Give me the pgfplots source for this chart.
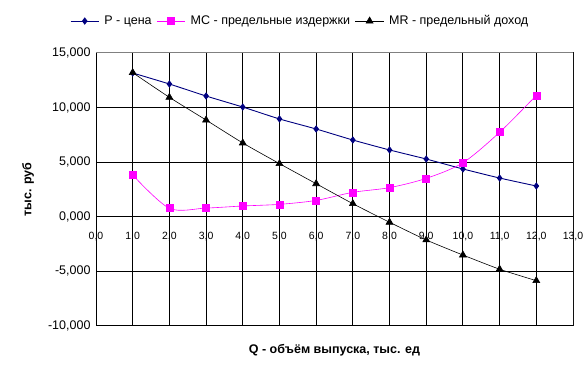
\documentclass[border=0pt]{standalone}
\usepackage{fontspec}
\setmainfont{Liberation Sans}
\usepackage{pgfplots}
\pgfplotsset{compat=1.18}
\definecolor{pnavy}{RGB}{0,0,128}
\definecolor{mcmag}{RGB}{255,0,255}
\begin{document}
\begin{tikzpicture}
\path[use as bounding box] (0,0) rectangle (586pt,379pt);
\begin{axis}[
  at={(96pt,53pt)}, anchor=south west,
  scale only axis, width=477pt, height=273pt,
  xmin=0, xmax=13, ymin=-10, ymax=15,
  xtick={0,1,...,13}, ytick={-10,-5,0,5,10,15},
  major tick length=0pt,
  grid=major,
  major grid style={black, line width=1pt},
  axis line style={black, line width=1pt},
  /pgf/number format/assume math mode=true,
  xticklabel style={font=\fontsize{10.5}{12}\selectfont, yshift=97pt,
     /pgf/number format/.cd, fixed, fixed zerofill, precision=1, use comma, 1000 sep={}},
  yticklabel style={font=\fontsize{12.5}{14}\selectfont, xshift=-2pt,
     /pgf/number format/.cd, fixed, fixed zerofill, precision=3, use comma, 1000 sep={}},
  scaled y ticks=false,
  xlabel={Q - объём выпуска, тыс. ед},
  ylabel={тыс. руб},
  xlabel style={font=\bfseries\fontsize{12.5}{14}\selectfont, at={(axis description cs:0.5,-0.088)}, anchor=center},
  ylabel style={font=\bfseries\fontsize{12.5}{14}\selectfont, at={(axis description cs:-0.1426,0.5)}, anchor=center},
  legend columns=3,
  legend style={at={(axis description cs:0.428,1.117)}, anchor=center, draw=none,
     font=\fontsize{12.5}{14}\selectfont, column sep=3pt, inner sep=0pt},
  legend image code/.code={\draw[mark repeat=2,mark phase=2] plot coordinates {(0cm,0cm)(0.5cm,0cm)(1cm,0cm)};},
]
\addplot[pnavy, line width=0.9pt, smooth, tension=0.4, mark=diamond*, mark size=3pt, mark options={solid, fill=pnavy}]
  coordinates {(1,13.17)(2,12.16)(3,11.06)(4,10.05)(5,8.96)(6,8.04)(7,7.03)(8,6.12)(9,5.29)(10,4.38)(11,3.55)(12,2.82)};
\addlegendentry{P - цена}
\addplot[mcmag, line width=0.6pt, smooth, tension=0.5, mark=square*, mark size=3.5pt, mark options={solid, fill=mcmag}]
  coordinates {(1,3.83)(2,0.78)(3,0.80)(4,0.99)(5,1.14)(6,1.50)(7,2.24)(8,2.67)(9,3.52)(10,4.95)(11,7.74)(12,11.12)};
\addlegendentry{MC - предельные издержки}
\addplot[black, line width=0.6pt, smooth, tension=0.4, mark=triangle*, mark size=4pt, mark options={solid, fill=black}]
  coordinates {(1,13.2)(2,10.94)(3,8.86)(4,6.76)(5,4.87)(6,3.03)(7,1.2)(8,-0.5)(9,-2.12)(10,-3.5)(11,-4.8)(12,-5.85)};
\addlegendentry{MR - предельный доход}
\draw[gray, line width=1pt] (axis cs:0,15) -- (axis cs:13,15) -- (axis cs:13,-10);
\end{axis}
\end{tikzpicture}
\end{document}
